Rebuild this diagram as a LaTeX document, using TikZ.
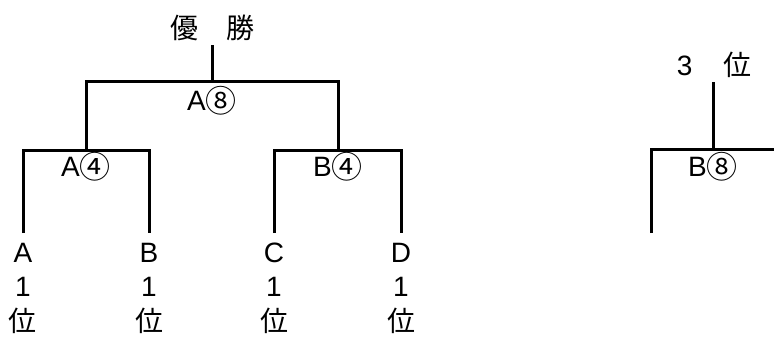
\documentclass[tikz,border=0pt]{standalone}
\usepackage{fontspec}
\setmainfont{Liberation Sans}
\newfontfamily\jp{Noto Sans CJK JP}
\usetikzlibrary{positioning}
\newcommand{\maru}[1]{\raisebox{-2.5pt}{\jp\fontsize{31}{31}\selectfont #1}}

\begin{document}
\begin{tikzpicture}[x=1pt,y=-1pt,line width=3pt,
  lbl/.style={font=\fontsize{28}{32}\selectfont,inner sep=0pt}]
\useasboundingbox (0,0) rectangle (774,341);
% main bracket
\coordinate (winbot) at (212,45);
\coordinate (fin) at (212,81);
\coordinate (sA) at (86,150);
\coordinate (sB) at (338,150);
\coordinate (lA) at (23,233);
\coordinate (lB) at (149,233);
\coordinate (lC) at (274,233);
\coordinate (lD) at (401,233);
\draw (winbot) -- (fin);
\draw (sA) |- (fin) -| (sB);
\draw (lA) |- (sA) -| (lB);
\draw (lC) |- (sB) -| (lD);
% third place
\coordinate (thirdbot) at (713,82);
\coordinate (sT) at (713,149);
\coordinate (lT) at (651,233);
\coordinate (edge) at (774,149);
\draw (thirdbot) -- (sT);
\draw (lT) |- (sT) -- (edge);
% labels
\node[lbl] (win) at (212,28) {\jp 優　勝};
\node[lbl] (third) at (714,65) {3\hspace{1.1em}{\jp 位}};
\node[lbl] (scoreF) at (212,101) {A\maru{⑧}};
\node[lbl] (scoreA) at (86,167) {A\maru{④}};
\node[lbl] (scoreB) at (338,167) {B\maru{④}};
\node[lbl] (scoreT) at (713,167) {B\maru{⑧}};
\foreach \t/\x in {A/23,B/149,C/274,D/401} {
  \node[lbl] (name\t) at (\x,253) {\t};
  \node[lbl] (rank\t) at (\x,287) {1};
  \node[lbl] (pos\t) at (\x,321) {\jp 位};
}
\end{tikzpicture}
\end{document}
